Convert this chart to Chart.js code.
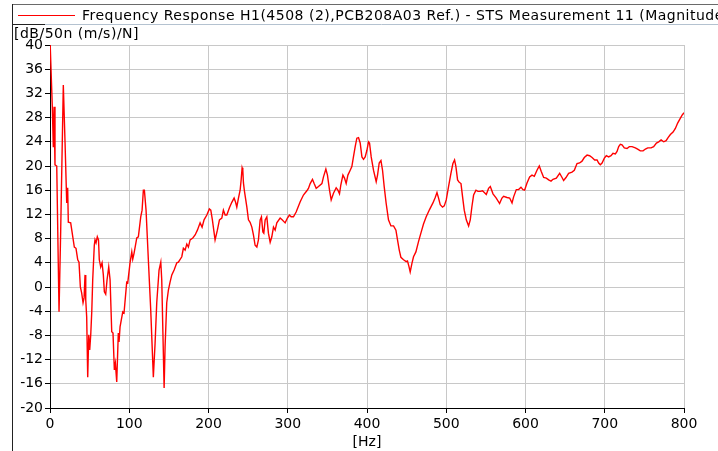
<!DOCTYPE html>
<html>
<head>
<meta charset="utf-8">
<script src="https://cdn.jsdelivr.net/npm/chart.js@4"></script>
<style>
  html, body { margin: 0; padding: 0; background: #fff; }
  #wrap { width: 718px; height: 451px; }
</style>
</head>
<body>
<div id="wrap"><canvas id="chartFrf" width="718" height="451"></canvas></div>
<script>
// Frequency axis [Hz]
const freq = [
    0, 2.9, 4.2, 5.1, 6.3, 8.5, 11.4, 13.5, 16.8, 19, 21.1, 22.3, 23.1, 26.1, 30.7, 32.8, 35, 36.6,
    38.3, 40, 41.7, 43, 44.2, 45.1, 46.3, 47.6, 48.9, 50.1, 51.4, 52.7, 53.9, 55.9, 56.8, 58.1,
    59.7, 61.2, 62.2, 64, 65.7, 67.3, 68.6, 70.3, 72, 74.1, 75.8, 77.9, 79.5, 81.2, 82.5, 84.2,
    86.2, 87.1, 88.4, 91.8, 93.4, 96.8, 98.1, 101, 103.2, 104.4, 106.1, 109.5, 111.5, 114.5,
    116.2, 117.8, 119.1, 121.2, 124.1, 127.1, 130.4, 132.6, 134.7, 137.6, 139.8, 141, 144,
    145.2, 147.3, 149.4, 151.5, 153.7, 156.6, 160, 162, 166.3, 168.3, 170.5, 172.6, 174.6,
    176.8, 180.2, 183.1, 186, 189.4, 191.9, 194.4, 197.9, 201.1, 202.9, 204.9, 208.3, 211.2,
    213.8, 216.8, 218.8, 221, 223.1, 226.4, 229.4, 232.3, 234.2, 235.7, 237.8, 239.9, 241.2,
    242.4, 243.3, 244.1, 245.3, 248.4, 250.4, 252.5, 254.7, 256.7, 258.8, 261, 263, 265.2,
    266.8, 268.6, 269.8, 271.5, 273.6, 275.6, 277.8, 279.9, 282, 284.1, 286.2, 290.4, 292.9,
    296.7, 299.6, 302.1, 304.3, 307.2, 310.6, 315.7, 319.8, 324.1, 326.1, 328.3, 331.2, 333.3,
    335.9, 338.8, 343.1, 345.1, 348.1, 350.1, 352.7, 354.8, 357.7, 361.1, 363.3, 365.3, 367,
    369.6, 371.6, 373.7, 375.9, 378.8, 380.9, 382.9, 385.1, 387.2, 389.3, 391.4, 393.6, 395.6,
    397.7, 399.9, 401.9, 403.2, 405.3, 408.2, 411.6, 413.3, 415.4, 417.6, 419.6, 421.7, 424.2,
    427.1, 430.2, 433.5, 436.5, 438.5, 440.7, 442.8, 446.1, 449.5, 451.1, 452.9, 454.5, 456.7,
    458.7, 461.7, 465, 468, 471.3, 474.7, 478.9, 483.2, 486.1, 488.3, 490.3, 492.4, 495.3,
    497.5, 500, 502.9, 505.9, 508.4, 510.5, 512.2, 514.3, 516.4, 518.6, 520.6, 522.7, 525.3,
    528.2, 530.3, 532.4, 534.5, 537.5, 540, 542.9, 545.8, 550.5, 553.4, 555.6, 559, 563.1,
    567.3, 570.3, 572.4, 576.6, 580, 583, 585, 588.4, 591.3, 594.3, 596.8, 598.9, 601.9, 605.2,
    608.2, 611.1, 614.5, 617.4, 619.9, 622.9, 626.3, 629.2, 632.2, 634.7, 638.9, 643.1, 646.1,
    648.1, 651.1, 654.4, 658.7, 661.6, 665, 668.3, 671.3, 674.2, 677.7, 680.9, 684, 687.3,
    690.3, 692.3, 694.4, 696.6, 699.5, 702, 704.9, 707.9, 710.4, 713.4, 715.5, 717.6, 719.7,
    721.8, 724.7, 728.1, 731, 734.5, 738.6, 741.5, 744.9, 748.4, 751.3, 754.2, 758.5, 761.7,
    765.2, 768.1, 771.1, 774.4, 777.4, 779.9, 782.8, 786.2, 789.1, 792, 794.6, 797.6, 800
];

// Magnitude [dB/50n (m/s)/N]
const mag = [
    41, 29.8, 23.1, 29.8, 20.2, 20.0, -4.1, 9.4, 33.4, 23.8, 13.9, 16.4, 10.7, 10.6, 6.6, 6.4, 4.5, 4.1,
    0, -1.0, -2.6, -1.8, 2.0, -2.1, -5.0, -14.9, -7.9, -10.4, -7.9, -4.1, 1.2, 6.9, 7.8, 7.3,
    8.3, 7.8, 4.5, 3.3, 4.0, 2.0, -0.8, -1.2, 1.2, 3.3, 1.2, -7.4, -7.6, -13.7, -12.6, -15.7,
    -7.6, -9.1, -6.6, -4.1, -4.3, 0.8, 0.7, 4.0, 5.8, 4.6, 5.6, 8.1, 8.3, 11.6,
    12.7, 16.0, 16.0, 12.7, 4.5, -3.8, -14.9, -9.3, -2.6, 2.8, 4.1, 1.2, -16.7,
    -9.9, -2.6, -0.5, 0.8, 2.0, 2.8, 4.0, 4.1, 5.0, 6.4, 6.1, 7.1, 6.6,
    7.8, 8.1, 8.6, 9.4, 10.6, 9.9, 11.1, 11.9, 12.9, 12.7, 11.1, 7.8, 9.4,
    11.1, 11.4, 12.7, 11.9, 11.9, 13.1, 14.0, 14.7, 14.0, 13.2, 14.7, 16.0, 17.7,
    19.7, 19.3, 17.2, 15.9, 13.2, 11.1, 10.7, 9.9, 8.6, 6.9, 6.6, 7.8, 11.1,
    11.6, 9.1, 8.9, 11.1, 11.6, 8.9, 7.4, 8.3, 9.9, 9.4, 10.6, 11.4, 11.1,
    10.6, 11.4, 11.9, 11.6, 11.6, 12.4, 14.1, 15.2, 15.9, 16.3, 17.1, 17.8, 17.1,
    16.3, 16.6, 17.1, 18.2, 19.5, 18.5, 16.0, 14.4, 15.5, 16.4, 16.0, 15.4, 16.9,
    18.5, 18.0, 17.1, 18.5, 19.3, 19.9, 21.5, 23.2, 24.6, 24.7, 23.8, 21.5, 21.1,
    21.5, 22.6, 24.0, 23.8, 21.5, 19.3, 17.4, 18.5, 20.5, 20.9, 19.3, 16.6, 13.8,
    11.1, 10.1, 10.1, 9.4, 7.8, 6.1, 4.9, 4.5, 4.2, 4.3, 3.4, 2.5, 3.9,
    5.0, 5.8, 7.5, 8.9, 10.4, 11.6, 12.8, 13.9, 14.8, 15.6, 14.7, 13.6, 13.2,
    13.4, 14.4, 16.6, 18.8, 20.4, 21.0, 19.9, 17.7, 17.3, 17.1, 14.9, 12.7, 11.1,
    10.1, 11.1, 13.3, 15.2, 16.0, 15.8, 15.8, 15.9, 15.3, 16.3, 16.6, 15.4, 14.7,
    13.8, 14.7, 15.0, 14.8, 14.7, 13.9, 14.9, 16.1, 16.1, 16.5, 16.1, 16.0, 17.2, 18.2,
    18.5, 18.3, 19.3, 20.0, 19.1, 18.1, 18.0, 17.7, 17.5, 17.8, 18.0, 18.8, 18.1,
    17.6, 18.1, 18.8, 19.0, 19.3, 20.4, 20.5, 20.8, 21.4, 21.8, 21.7, 21.4, 21.0,
    21.0, 20.5, 20.2, 20.5, 21.3, 21.7, 21.5, 21.7, 22.1, 22.0, 22.4, 23.2, 23.6,
    23.5, 23.0, 22.9, 23.2, 23.2, 23.0, 22.8, 22.5, 22.5, 22.8, 23.0, 23.0, 23.2,
    23.8, 24.0, 24.3, 24.0, 24.2, 24.7, 25.2, 25.6, 26.2, 27.1, 27.7, 28.4, 28.8
];

const seriesLabel = "Frequency Response H1(4508 (2),PCB208A03 Ref.) - STS Measurement 11 (Magnitude)";
const yTitle = "[dB/50n (m/s)/N]";
const xTitle = "[Hz]";

const FONT = "DejaVu Sans";

// frame, legend and y title drawn by hand
const framePlugin = {
    id: "frame",
    afterDraw(chart) {
        const ctx = chart.ctx;
        ctx.save();
        ctx.lineWidth = 1;
        ctx.strokeStyle = "#6a6a6a";
        ctx.beginPath();
        ctx.moveTo(12, 4.5);
        ctx.lineTo(718, 4.5);
        ctx.stroke();
        ctx.strokeStyle = "#b4c2d0";
        ctx.beginPath();
        ctx.moveTo(45, 24.5);
        ctx.lineTo(718, 24.5);
        ctx.stroke();
        ctx.strokeStyle = "#222";
        ctx.beginPath();
        ctx.moveTo(12.5, 4);
        ctx.lineTo(12.5, 451);
        ctx.moveTo(12, 24.5);
        ctx.lineTo(45, 24.5);
        ctx.stroke();

        // legend
        ctx.strokeStyle = "#ff0000";
        ctx.beginPath();
        ctx.moveTo(18, 15.5);
        ctx.lineTo(75, 15.5);
        ctx.stroke();
        ctx.fillStyle = "#000";
        ctx.font = "14px '" + FONT + "'";
        ctx.letterSpacing = "0.5px";
        ctx.textBaseline = "middle";
        ctx.textAlign = "left";
        ctx.fillText(chart.data.datasets[0].label, 82, 16);

        // y title
        ctx.fillText(yTitle, 14, 34);
        ctx.restore();
    }
};

new Chart(document.getElementById("chartFrf"), {
    type: "line",
    data: {
        datasets: [{
            label: seriesLabel,
            data: freq.map((f, i) => ({ x: f, y: mag[i] })),
            borderColor: "#ff0000",
            borderWidth: 1.4,
            pointRadius: 0,
            tension: 0,
            clip: 0
        }]
    },
    options: {
        responsive: false,
        animation: false,
        devicePixelRatio: 1,
        layout: {
            padding: { left: 0, top: 45, right: 34, bottom: 0 }
        },
        plugins: {
            legend: { display: false },
            tooltip: { enabled: false }
        },
        scales: {
            x: {
                type: "linear",
                min: 0,
                max: 800,
                ticks: {
                    stepSize: 100,
                    color: "#000",
                    padding: 3,
                    maxRotation: 0,
                    font: { family: FONT, size: 14 }
                },
                grid: {
                    color: "#c8c8c8",
                    tickColor: "#000",
                    tickLength: 5
                },
                border: { color: "#000" },
                title: {
                    display: true,
                    text: xTitle,
                    color: "#000",
                    padding: { top: 0, bottom: 0 },
                    font: { family: FONT, size: 14 }
                },
                afterFit: s => { s.height = 43; }
            },
            y: {
                min: -20,
                max: 40,
                ticks: {
                    stepSize: 4,
                    color: "#000",
                    padding: 2,
                    font: { family: FONT, size: 14 }
                },
                grid: {
                    color: "#c8c8c8",
                    tickColor: "#000",
                    tickLength: 5
                },
                border: { color: "#000" },
                afterFit: s => { s.width = 50; }
            }
        }
    },
    plugins: [framePlugin]
});
</script>
</body>
</html>
